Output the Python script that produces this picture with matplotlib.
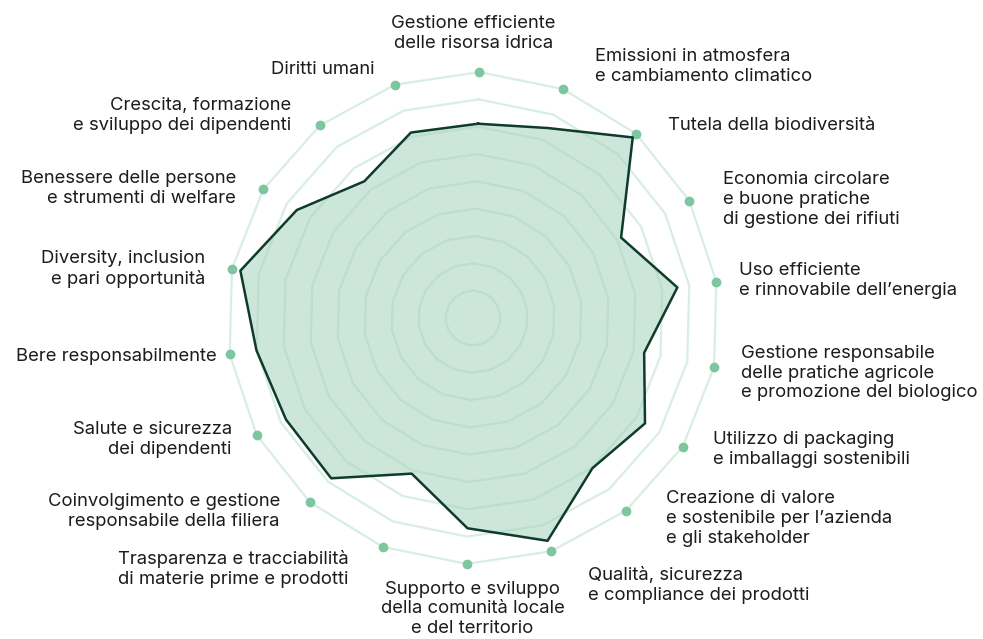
import numpy as np
import matplotlib.pyplot as plt

# categorie (in senso orario, dall'alto)
labels = [
    "Gestione efficiente\ndelle risorsa idrica",
    "Emissioni in atmosfera\ne cambiamento climatico",
    "Tutela della biodiversità",
    "Economia circolare\ne buone pratiche\ndi gestione dei rifiuti",
    "Uso efficiente\ne rinnovabile dell\u2019energia",
    "Gestione responsabile\ndelle pratiche agricole\ne promozione del biologico",
    "Utilizzo di packaging\ne imballaggi sostenibili",
    "Creazione di valore\ne sostenibile per l\u2019azienda\ne gli stakeholder",
    "Qualità, sicurezza\ne compliance dei prodotti",
    "Supporto e sviluppo\ndella comunità locale\ne del territorio",
    "Trasparenza e tracciabilità\ndi materie prime e prodotti",
    "Coinvolgimento e gestione\nresponsabile della filiera",
    "Salute e sicurezza\ndei dipendenti",
    "Bere responsabilmente",
    "Diversity, inclusion\ne pari opportunità",
    "Benessere delle persone\ne strumenti di welfare",
    "Crescita, formazione\ne sviluppo dei dipendenti",
    "Diritti umani",
]
# valori (scala 0-100)
values = [79, 83, 98, 68.5, 84, 71, 82, 78, 95.5, 85.5, 68, 87, 86.5, 89, 96.5, 84, 71, 79.5]
n_rings = 9
vmax = 100

# offset etichette in pixel rispetto al punto esterno (dx, dy, ha)
lab_off = [(-6, 39, 'center'), (32, 23, 'left'), (32, 8, 'left'), (34, 1, 'left'),
           (23, 1, 'left'), (27, -6, 'left'), (30, -3, 'left'), (40, -8, 'left'),
           (37, -34, 'left'), (6, -45, 'center'), (-34, -22, 'right'), (-30, -9, 'right'),
           (-25, -4, 'right'), (-13, -2, 'right'), (-27, 0, 'right'), (-27, 1, 'right'),
           (-29, 10, 'right'), (-20, 15, 'right')]

plt.rcParams['font.family'] = ['Inter', 'DejaVu Sans']

N = len(labels)
theta = np.deg2rad(np.arange(N) * 360.0 / N + 1.5)
th_c = np.append(theta, theta[0])

fig = plt.figure(figsize=(9.83, 6.39), dpi=100)
ax = fig.add_axes([227/983, 75/639, 492/983, 492/639], projection='polar')
ax.set_theta_zero_location('N')
ax.set_theta_direction(-1)
ax.set_ylim(0, vmax)
ax.axis('off')

# anelli poligonali
for k in range(1, n_rings + 1):
    r = vmax * k / n_rings
    ax.plot(th_c, [r] * (N + 1), color='#d8eee4', lw=1.6, zorder=1, clip_on=False)

# punti esterni
ax.plot(theta, [vmax] * N, 'o', color='#7cc6a0', ms=6, zorder=3, clip_on=False)

v_c = values + values[:1]
ax.fill(th_c, v_c, color='#a4d2bc', alpha=0.55, lw=0, zorder=2)
ax.plot(th_c, v_c, color='#0e3b2d', lw=1.8, zorder=4)

for i, lab in enumerate(labels):
    dx, dy, ha = lab_off[i]
    ax.annotate(lab, xy=(theta[i], vmax), xytext=(dx, dy), textcoords='offset pixels',
                ha=ha, va='center', multialignment=ha, fontsize=13.3,
                color='#1c1c1c', linespacing=1.22, annotation_clip=False)

fig.savefig('out.png', dpi=100)
